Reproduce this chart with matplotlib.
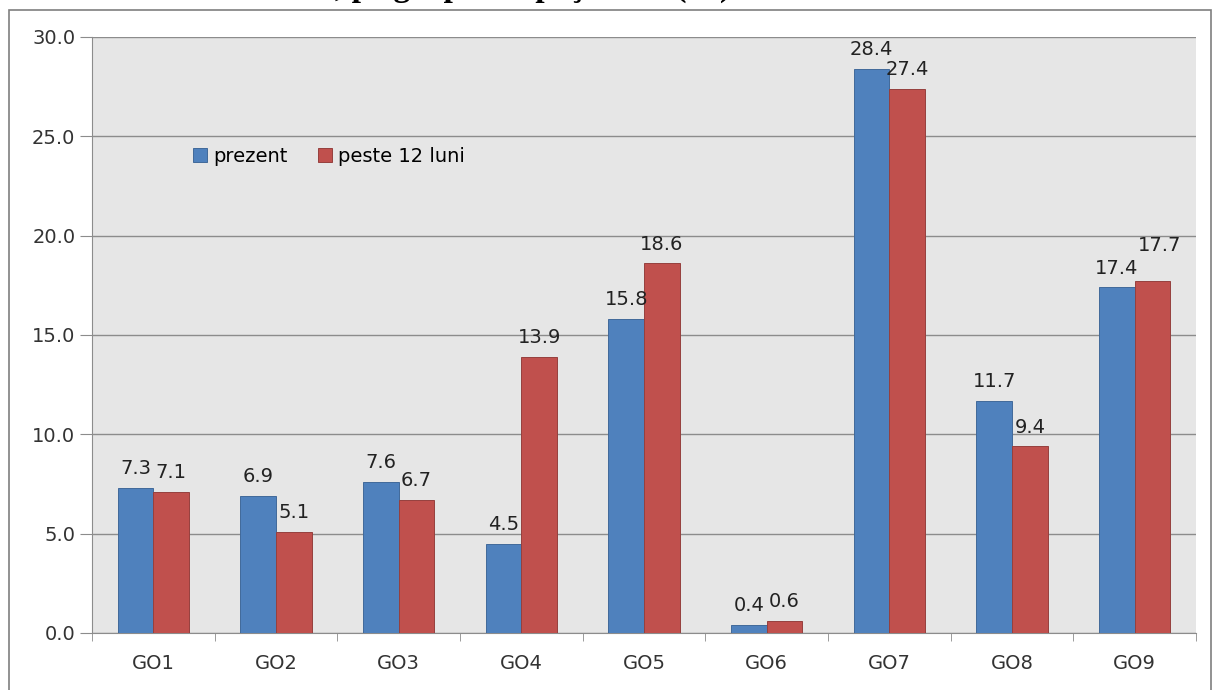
import matplotlib
matplotlib.use("Agg")
import matplotlib.pyplot as plt
import numpy as np
from matplotlib.patches import Rectangle

categories = ["GO1", "GO2", "GO3", "GO4", "GO5", "GO6", "GO7", "GO8", "GO9"]
prezent = [7.3, 6.9, 7.6, 4.5, 15.8, 0.4, 28.4, 11.7, 17.4]
peste12 = [7.1, 5.1, 6.7, 13.9, 18.6, 0.6, 27.4, 9.4, 17.7]
series_names = ["prezent", "peste 12 luni"]
yticks = [0, 5, 10, 15, 20, 25, 30]

W, H = 1217, 690
fig = plt.figure(figsize=(W / 100, H / 100), dpi=100)
fig.patch.set_facecolor("white")
ax = fig.add_axes([92 / W, 1 - 633 / H, (1196 - 92) / W, (633 - 37) / H])
ax.set_facecolor("#e6e6e6")

x = np.arange(len(categories))
bw = 0.29
blue, red = "#4f81bd", "#c0504d"
b1 = ax.bar(x - bw / 2, prezent, bw, color=blue, edgecolor="#41699a", linewidth=0.7,
            label=series_names[0], zorder=3)
b2 = ax.bar(x + bw / 2, peste12, bw, color=red, edgecolor="#96403e", linewidth=0.7,
            label=series_names[1], zorder=3)

# label nudges (in points) to avoid overlaps, as in the reference
nudge = {(1, 8): (5, 12)}
for si, (bars, vals) in enumerate(((b1, prezent), (b2, peste12))):
    for ci, (r, v) in enumerate(zip(bars, vals)):
        dx, dy = nudge.get((si, ci), (0, 0))
        ax.annotate(f"{v:.1f}", (r.get_x() + r.get_width() / 2, v), xytext=(dx, 7 + dy),
                    textcoords="offset points", ha="center", va="bottom",
                    fontsize=14, color="#222222", zorder=4)

ax.set_xlim(-0.5, len(categories) - 0.5)
ax.set_ylim(0, 30)
ax.set_yticks(yticks)
ax.set_yticklabels([f"{t:.1f}" for t in yticks], fontsize=14, color="#333333")
ax.yaxis.grid(True, color="#8c8c8c", linewidth=1, zorder=1)
ax.set_axisbelow(True)
ax.tick_params(axis="y", length=9, color="#8c8c8c", pad=3)

ax.set_xticks(x)
ax.set_xticklabels(categories, fontsize=14, color="#333333")
ax.tick_params(axis="x", length=0, pad=15)
# category boundary ticks
ax.set_xticks(np.arange(-0.5, len(categories), 1), minor=True)
ax.tick_params(axis="x", which="minor", length=6, color="#8c8c8c")

for s in ["top", "right"]:
    ax.spines[s].set_visible(False)
ax.spines["left"].set_color("#8c8c8c")
ax.spines["bottom"].set_color("#8c8c8c")

leg = ax.legend(loc="center left", bbox_to_anchor=(0.076, 0.80), ncol=2, frameon=False,
                fontsize=14, handlelength=0.7, handleheight=0.7, columnspacing=1.6,
                handletextpad=0.3)

# outer frame
fig.patches.append(Rectangle((9 / W, -0.01), (1211 - 9) / W, 1 - 10 / H + 0.01,
                             transform=fig.transFigure, fill=False,
                             edgecolor="#7f7f7f", linewidth=1.2))

# title clipped at the top edge (only descenders visible, as in the reference)
fig.text(335 / W, 1.0 + 4 / H, ", pe grupe ocupaţionale (%)", ha="left", va="baseline",
         fontsize=24, fontweight="bold", family="Liberation Serif")
fig.text(335 / W, 1.0 + 4 / H, "Structura", ha="right", va="baseline",
         fontsize=24, fontweight="bold", family="Liberation Serif")

fig.savefig("out.png", dpi=100)
